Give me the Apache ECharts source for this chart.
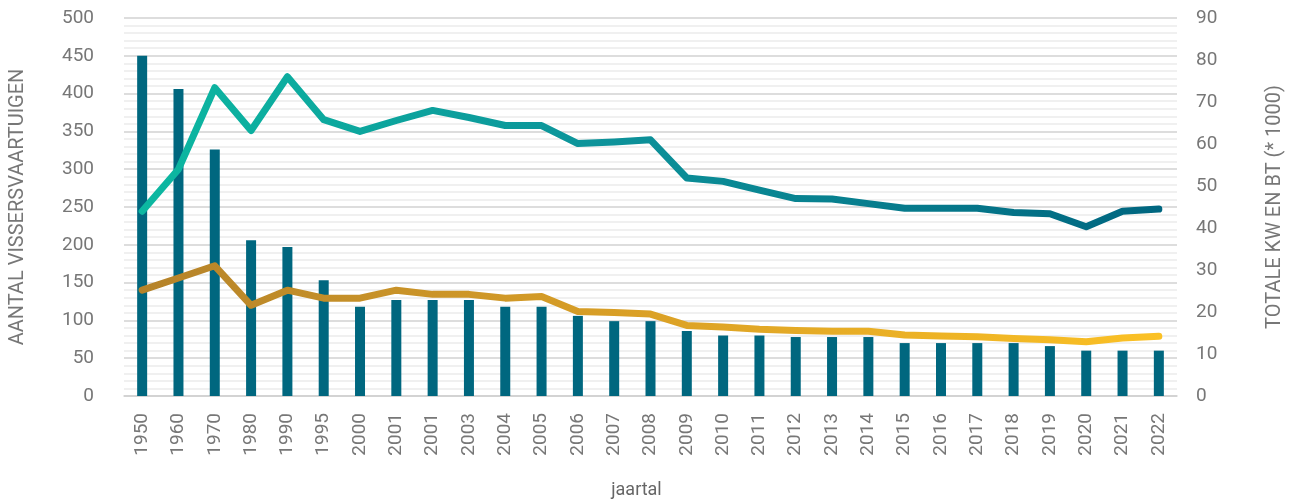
<!DOCTYPE html>
<html>
<head>
<meta charset="utf-8">
<script src="https://cdn.jsdelivr.net/npm/echarts@6/dist/echarts.min.js"></script>
<style>
html,body{margin:0;padding:0;background:#fff;}
#chart{width:1295px;height:504px;}
</style>
</head>
<body>
<div id="chart"></div>
<script>
var categories = ['1950','1960','1970','1980','1990','1995','2000','2001','2001','2003','2004','2005','2006','2007','2008','2009','2010','2011','2012','2013','2014','2015','2016','2017','2018','2019','2020','2021','2022'];
var vessels = [450,406,326,206,197,153,118,127,127,127,118,118,106,99,99,86,80,80,78,78,78,70,70,70,70,66,60,60,60];
var totalKW = [44,54,73.4,63.2,76,65.8,63,65.6,68,66.3,64.4,64.4,60.1,60.5,61,51.9,51.1,49,47,46.9,45.8,44.7,44.7,44.7,43.7,43.4,40.3,44,44.5];
var totalBT = [25.2,28.1,31,21.6,25.2,23.3,23.3,25.2,24.2,24.2,23.3,23.7,20.1,19.9,19.5,16.8,16.4,15.9,15.6,15.4,15.4,14.5,14.3,14.1,13.7,13.4,12.9,13.8,14.2];
var leftTicks = {min:0, max:500, interval:50};
var rightTicks = {min:0, max:90, interval:10};

var txt = '#777777';
var font = 'Roboto';
var chart = echarts.init(document.getElementById('chart'), null, {renderer:'canvas'});
chart.setOption({
  animation:false,
  backgroundColor:'#ffffff',
  textStyle:{fontFamily:font},
  grid:{left:122, right:118, top:18, bottom:106, containLabel:false},
  xAxis:{
    type:'category', data:categories,
    name:'jaartal', nameLocation:'middle', nameGap:85,
    nameTextStyle:{color:'#666', fontSize:18, fontFamily:font, padding:[0,28,0,0]},
    axisLine:{show:true, lineStyle:{color:'#d0d0d0', width:1.5}},
    axisTick:{show:false},
    axisLabel:{rotate:90, color:txt, fontSize:19, margin:17, fontFamily:font, interval:0}
  },
  yAxis:[{
    type:'value', min:leftTicks.min, max:leftTicks.max, interval:leftTicks.interval,
    name:'AANTAL VISSERSVAARTUIGEN', nameLocation:'middle', nameGap:96, nameRotate:90,
    nameTextStyle:{color:txt, fontSize:20, fontFamily:font},
    axisLine:{show:false}, axisTick:{show:false},
    axisLabel:{color:txt, fontSize:19, margin:30, fontFamily:font},
    splitLine:{show:true, lineStyle:{color:'#d2d2d2', width:1.5}},
    minorTick:{show:false, splitNumber:5},
    minorSplitLine:{show:true, lineStyle:{color:'#ebebeb', width:1.5}}
  },{
    type:'value', min:rightTicks.min, max:rightTicks.max, interval:rightTicks.interval,
    name:'TOTALE KW EN BT (* 1000)', nameLocation:'middle', nameGap:88, nameRotate:90,
    nameTextStyle:{color:txt, fontSize:20, fontFamily:font},
    axisLine:{show:false}, axisTick:{show:false},
    axisLabel:{color:txt, fontSize:19, margin:19, fontFamily:font},
    splitLine:{show:false}
  }],
  series:[{
    type:'bar', yAxisIndex:0, data:vessels, barWidth:10,
    itemStyle:{color:'#00677f'}, z:2
  },{
    type:'line', yAxisIndex:1, data:totalKW, symbol:'none', z:3,
    lineStyle:{width:7, cap:'round', join:'round',
      color:new echarts.graphic.LinearGradient(0,0,1,0,[{offset:0,color:'#0cb8a1'},{offset:0.45,color:'#0d939a'},{offset:1,color:'#006680'}])}
  },{
    type:'line', yAxisIndex:1, data:totalBT, symbol:'none', z:3,
    lineStyle:{width:7, cap:'round', join:'round',
      color:new echarts.graphic.LinearGradient(0,0,1,0,[{offset:0,color:'#b5832a'},{offset:0.5,color:'#dba126'},{offset:1,color:'#fbc125'}])}
  }]
});
</script>
</body>
</html>
